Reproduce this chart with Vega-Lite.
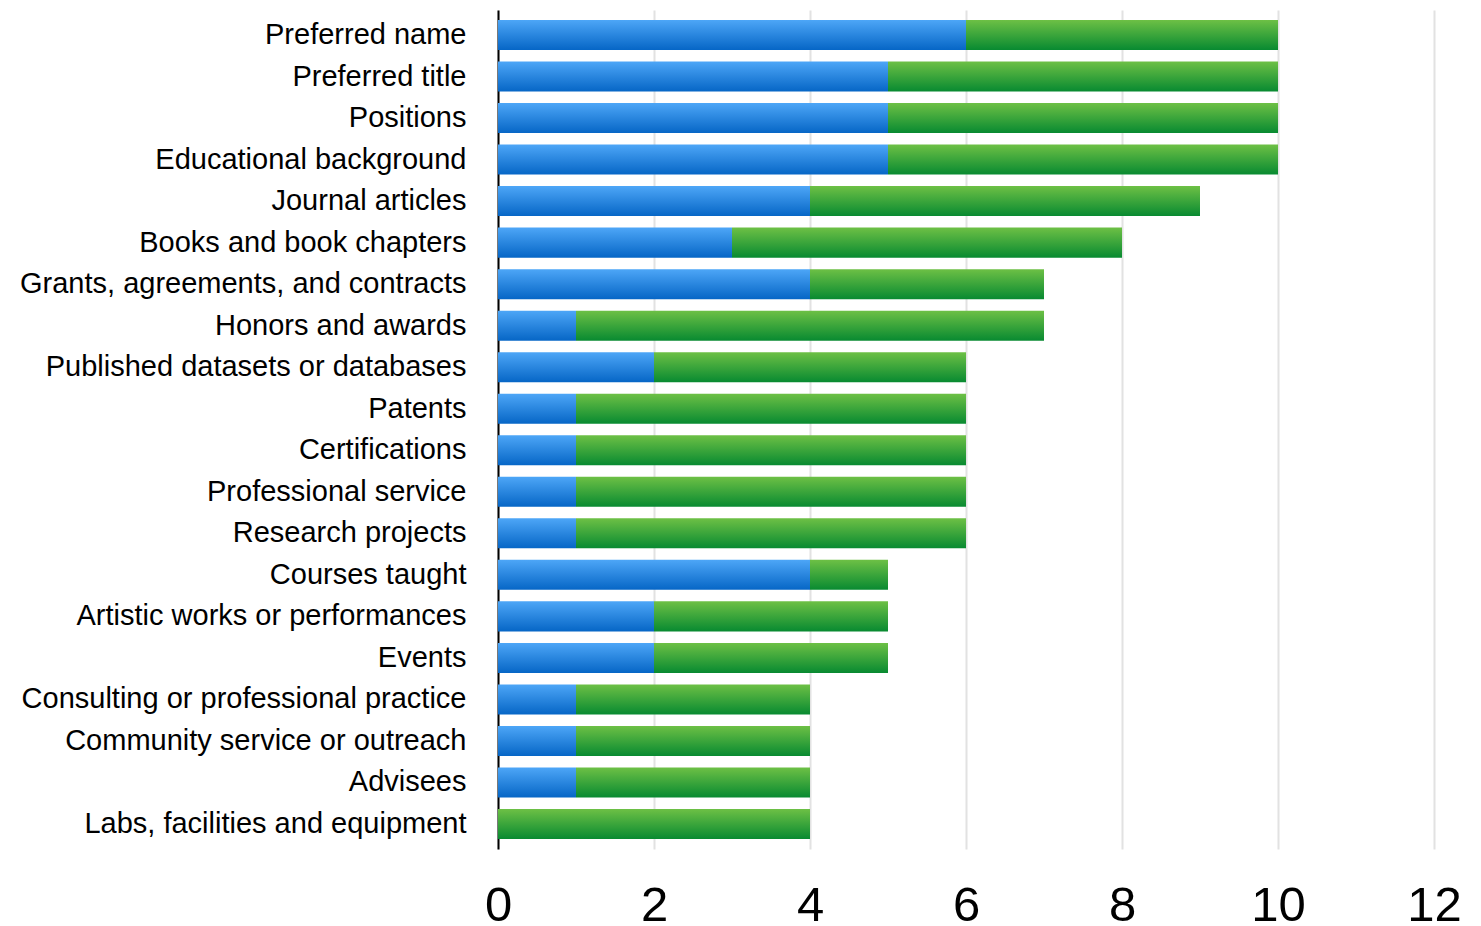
{
  "$schema": "https://vega.github.io/schema/vega-lite/v6.json",
  "autosize": "none",
  "width": 936,
  "height": 839,
  "padding": {"left": 498, "top": 10, "right": 47, "bottom": 77},
  "background": "white",
  "config": {"view": {"stroke": null}, "font": "Liberation Sans"},
  "data": {"values": [
    {"name": "Preferred name", "blue": 6, "total": 10},
    {"name": "Preferred title", "blue": 5, "total": 10},
    {"name": "Positions", "blue": 5, "total": 10},
    {"name": "Educational background", "blue": 5, "total": 10},
    {"name": "Journal articles", "blue": 4, "total": 9},
    {"name": "Books and book chapters", "blue": 3, "total": 8},
    {"name": "Grants, agreements, and contracts", "blue": 4, "total": 7},
    {"name": "Honors and awards", "blue": 1, "total": 7},
    {"name": "Published datasets or databases", "blue": 2, "total": 6},
    {"name": "Patents", "blue": 1, "total": 6},
    {"name": "Certifications", "blue": 1, "total": 6},
    {"name": "Professional service", "blue": 1, "total": 6},
    {"name": "Research projects", "blue": 1, "total": 6},
    {"name": "Courses taught", "blue": 4, "total": 5},
    {"name": "Artistic works or performances", "blue": 2, "total": 5},
    {"name": "Events", "blue": 2, "total": 5},
    {"name": "Consulting or professional practice", "blue": 1, "total": 4},
    {"name": "Community service or outreach", "blue": 1, "total": 4},
    {"name": "Advisees", "blue": 1, "total": 4},
    {"name": "Labs, facilities and equipment", "blue": 0, "total": 4}
  ]},
  "encoding": {
    "y": {
      "field": "name", "type": "nominal", "sort": null, "title": null,
      "scale": {"paddingInner": 0.277, "paddingOuter": 0.24},
      "axis": {"labelFontSize": 29, "labelColor": "black", "labelPadding": 32, "ticks": false,
               "domainColor": "black", "domainWidth": 2, "labelLimit": 600, "grid": false}
    }
  },
  "layer": [
    {
      "mark": {"type": "bar", "color": {"gradient": "linear", "x1": 0, "y1": 0, "x2": 0, "y2": 1,
        "stops": [{"offset": 0, "color": "#4da6f7"}, {"offset": 1, "color": "#0666c6"}]}},
      "encoding": {
        "x": {"field": "blue", "type": "quantitative", "title": null,
          "scale": {"domain": [0, 12], "nice": false},
          "axis": {"values": [0, 2, 4, 6, 8, 10, 12], "format": "d", "labelFontSize": 49, "labelColor": "black",
                   "labelPadding": 32, "ticks": false, "domain": false, "grid": true,
                   "gridColor": "#e2e2e2", "gridWidth": 2, "labelFlush": false}}
      }
    },
    {
      "mark": {"type": "bar", "color": {"gradient": "linear", "x1": 0, "y1": 0, "x2": 0, "y2": 1,
        "stops": [{"offset": 0, "color": "#6dc045"}, {"offset": 1, "color": "#088a31"}]}},
      "encoding": {
        "x": {"field": "blue", "type": "quantitative"},
        "x2": {"field": "total"}
      }
    }
  ]
}
